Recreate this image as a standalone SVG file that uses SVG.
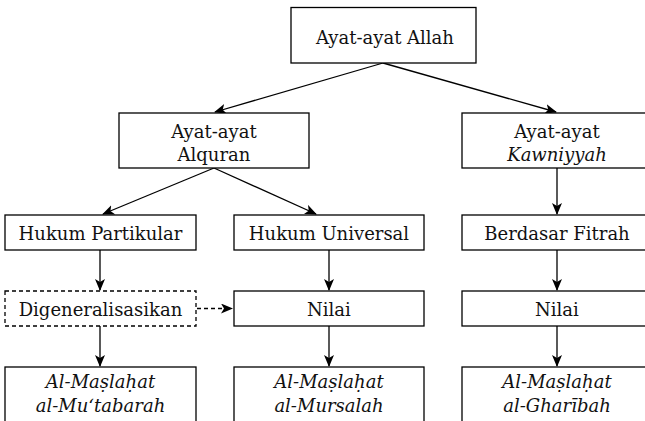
<svg xmlns="http://www.w3.org/2000/svg" width="645" height="421" viewBox="0 0 645 421">
<style>
.box{fill:#fff;stroke:#000;stroke-width:1.3}
.dash{stroke-dasharray:4 3}
text{font-family:"DejaVu Serif","Liberation Serif",serif;font-size:18px;fill:#111;text-anchor:middle}
.it{font-style:italic}
.ln{stroke:#000;stroke-width:1.3;fill:none;marker-end:url(#ah)}
</style>
<defs>
<marker id="ah" viewBox="0 0 12 10" refX="11" refY="5" markerWidth="12" markerHeight="10" markerUnits="userSpaceOnUse" orient="auto">
<path d="M0,0 L12,5 L0,10 L3,5 z" fill="#000"/>
</marker>
</defs>
<g id="connectors">
<line class="ln" x1="383" y1="63" x2="215" y2="112"/>
<line class="ln" x1="383" y1="63" x2="556" y2="112"/>
<line class="ln" x1="214" y1="168" x2="103" y2="214"/>
<line class="ln" x1="214" y1="168" x2="316" y2="214"/>
<line class="ln" x1="557" y1="168" x2="557" y2="214"/>
<line class="ln" x1="100" y1="250" x2="100" y2="290"/>
<line class="ln" x1="329" y1="250" x2="329" y2="290"/>
<line class="ln" x1="557" y1="250" x2="557" y2="290"/>
<line class="ln dash" x1="197" y1="308.5" x2="232" y2="308.5"/>
<line class="ln" x1="100" y1="326" x2="100" y2="366"/>
<line class="ln" x1="329" y1="326" x2="329" y2="366"/>
<line class="ln" x1="557" y1="326" x2="557" y2="366"/>
</g>
<g id="n-allah"><rect class="box" x="291" y="7.5" width="185" height="55.5"/><text x="385" y="44">Ayat-ayat Allah</text></g>
<g id="n-alquran"><rect class="box" x="119" y="113" width="190" height="55"/><text x="214" y="138">Ayat-ayat</text><text x="214" y="161">Alquran</text></g>
<g id="n-kawniyyah"><rect class="box" x="462" y="113" width="190" height="55"/><text x="557" y="138">Ayat-ayat</text><text class="it" x="557" y="161">Kawniyyah</text></g>
<g id="n-partikular"><rect class="box" x="5" y="215" width="191" height="35"/><text x="100.5" y="240">Hukum Partikular</text></g>
<g id="n-universal"><rect class="box" x="234" y="215" width="190" height="35"/><text x="329" y="240">Hukum Universal</text></g>
<g id="n-fitrah"><rect class="box" x="462" y="215" width="190" height="35"/><text x="557" y="240">Berdasar Fitrah</text></g>
<g id="n-digen"><rect class="box dash" x="5" y="291" width="191" height="35"/><text x="100.5" y="316">Digeneralisasikan</text></g>
<g id="n-nilai1"><rect class="box" x="234" y="291" width="190" height="35"/><text x="329" y="316">Nilai</text></g>
<g id="n-nilai2"><rect class="box" x="462" y="291" width="190" height="35"/><text x="557" y="316">Nilai</text></g>
<g id="n-mutabarah"><rect class="box" x="5" y="367" width="191" height="70"/><text class="it" x="100.5" y="388">Al-Maṣlaḥat</text><text class="it" x="100.5" y="412">al-Mu‘tabarah</text></g>
<g id="n-mursalah"><rect class="box" x="234" y="367" width="190" height="70"/><text class="it" x="329" y="388">Al-Maṣlaḥat</text><text class="it" x="329" y="412">al-Mursalah</text></g>
<g id="n-gharibah"><rect class="box" x="462" y="367" width="190" height="70"/><text class="it" x="557" y="388">Al-Maṣlaḥat</text><text class="it" x="557" y="412">al-Gharībah</text></g>
</svg>
